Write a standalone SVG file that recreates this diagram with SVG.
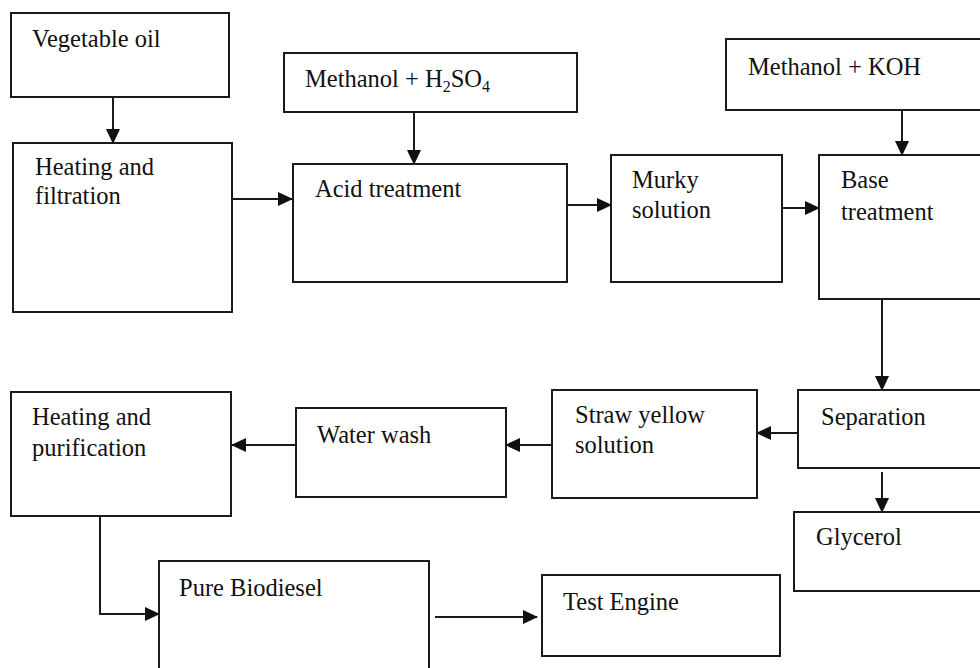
<svg xmlns="http://www.w3.org/2000/svg" width="980" height="668" viewBox="0 0 980 668">
<style>
.box{fill:#fff;stroke:#1a1a1a;stroke-width:2}
.t{font-family:"Liberation Serif","Times New Roman",serif;font-size:24.5px;fill:#111}
.c{fill:none;stroke:#1a1a1a;stroke-width:2}
</style>
<defs>
<marker id="ah" markerUnits="userSpaceOnUse" markerWidth="15" markerHeight="16" viewBox="0 0 15 16" refX="14" refY="8" orient="auto">
<path d="M0,1 L15,8 L0,15 Z" fill="#111"/>
</marker>
</defs>
<rect width="980" height="668" fill="#fff"/>
<g id="connectors">
<line class="c" x1="113" y1="97" x2="113" y2="143" marker-end="url(#ah)"/>
<line class="c" x1="232" y1="199" x2="292" y2="199" marker-end="url(#ah)"/>
<line class="c" x1="414" y1="112" x2="414" y2="164" marker-end="url(#ah)"/>
<line class="c" x1="567" y1="205" x2="611" y2="205" marker-end="url(#ah)"/>
<line class="c" x1="780" y1="208" x2="819" y2="208" marker-end="url(#ah)"/>
<line class="c" x1="902" y1="110" x2="902" y2="155" marker-end="url(#ah)"/>
<line class="c" x1="882" y1="299" x2="882" y2="390" marker-end="url(#ah)"/>
<line class="c" x1="798" y1="433" x2="757" y2="433" marker-end="url(#ah)"/>
<line class="c" x1="882" y1="472" x2="882" y2="512" marker-end="url(#ah)"/>
<line class="c" x1="552" y1="445" x2="506" y2="445" marker-end="url(#ah)"/>
<line class="c" x1="296" y1="445" x2="232" y2="445" marker-end="url(#ah)"/>
<polyline class="c" points="100,516 100,614 159,614" marker-end="url(#ah)"/>
<line class="c" x1="435" y1="617" x2="537" y2="617" marker-end="url(#ah)"/>
</g>
<g id="vegetable-oil">
<rect class="box" x="11" y="13" width="218" height="84"/>
<text class="t" x="32" y="47">Vegetable oil</text>
</g>
<g id="heating-filtration">
<rect class="box" x="13" y="143" width="219" height="169"/>
<text class="t" x="35" y="175">Heating and</text>
<text class="t" x="35" y="204">filtration</text>
</g>
<g id="methanol-h2so4">
<rect class="box" x="284" y="53" width="293" height="59"/>
<text class="t" x="305" y="87">Methanol + H<tspan font-size="16" dy="5">2</tspan><tspan dy="-5">SO</tspan><tspan font-size="16" dy="5">4</tspan></text>
</g>
<g id="acid-treatment">
<rect class="box" x="293" y="164" width="274" height="118"/>
<text class="t" x="315" y="197">Acid treatment</text>
</g>
<g id="methanol-koh">
<rect class="box" x="726" y="39" width="270" height="71"/>
<text class="t" x="748" y="75">Methanol + KOH</text>
</g>
<g id="murky-solution">
<rect class="box" x="611" y="155" width="171" height="127"/>
<text class="t" x="632" y="188">Murky</text>
<text class="t" x="632" y="218">solution</text>
</g>
<g id="base-treatment">
<rect class="box" x="819" y="155" width="180" height="144"/>
<text class="t" x="841" y="188">Base</text>
<text class="t" x="841" y="220">treatment</text>
</g>
<g id="separation">
<rect class="box" x="798" y="390" width="200" height="78"/>
<text class="t" x="821" y="425">Separation</text>
</g>
<g id="glycerol">
<rect class="box" x="794" y="512" width="200" height="79"/>
<text class="t" x="816" y="545">Glycerol</text>
</g>
<g id="straw-yellow-solution">
<rect class="box" x="552" y="390" width="205" height="108"/>
<text class="t" x="575" y="423">Straw yellow</text>
<text class="t" x="575" y="453">solution</text>
</g>
<g id="water-wash">
<rect class="box" x="296" y="408" width="210" height="89"/>
<text class="t" x="317" y="443">Water wash</text>
</g>
<g id="heating-purification">
<rect class="box" x="11" y="392" width="220" height="124"/>
<text class="t" x="32" y="425">Heating and</text>
<text class="t" x="32" y="456">purification</text>
</g>
<g id="pure-biodiesel">
<rect class="box" x="159" y="561" width="270" height="120"/>
<text class="t" x="179" y="596">Pure Biodiesel</text>
</g>
<g id="test-engine">
<rect class="box" x="542" y="575" width="238" height="81"/>
<text class="t" x="563" y="610">Test Engine</text>
</g>
</svg>
